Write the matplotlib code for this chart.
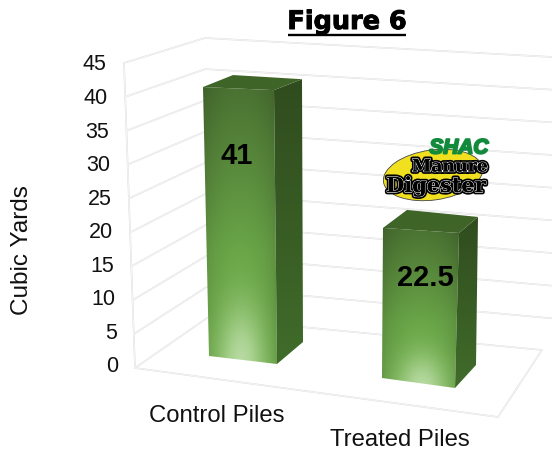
import matplotlib
matplotlib.use("Agg")
import matplotlib.pyplot as plt
import matplotlib.patheffects as pe
from matplotlib.patches import Polygon, Ellipse
import numpy as np

plt.rcParams['font.family'] = ['Liberation Sans', 'DejaVu Sans']

# Data
categories = ["Control Piles", "Treated Piles"]
values = [41, 22.5]
value_labels = ["41", "22.5"]
y_ticks = [0, 5, 10, 15, 20, 25, 30, 35, 40, 45]

# Perspective frame, in pixels
y_max = 45
front_left = ((135, 368), (124, 63))
back_left = ((207, 318), (205, 38))
back_right = ((552, 351), (552, 57))
floor_front_right = (498, 417)
floor_back_right = (542, 350)

# foot of each bar, px per unit on each vertical edge, lean of those edges
bar_geo = [
    {'bl': (209, 356), 'br': (277, 364), 'bbr': (303, 342),
     'scale': (6.56, 6.68, 6.41), 'lean': (-6, -3, -1), 'tbl': (30, -12), 'label': (237, 156)},
    {'bl': (382, 378), 'br': (455, 388), 'bbr': (476, 365),
     'scale': (6.67, 6.89, 6.58), 'lean': (1, 4, 2), 'tbl': (24, -18), 'label': (425, 278)},
]


def wall_point(edge, v):
    # point on a vertical wall edge for value v
    (x0, y0), (x1, y1) = edge
    t = v / y_max
    return x0 + (x1 - x0) * t, y0 + (y1 - y0) * t


def face_image(ax, poly, rgb):
    xs, ys = zip(*poly)
    im = ax.imshow(rgb, extent=(min(xs), max(xs), max(ys), min(ys)),
                   aspect='auto', interpolation='bilinear', zorder=3)
    clip = Polygon(poly, closed=True, transform=ax.transData, fc='none', ec='none')
    ax.add_patch(clip)
    im.set_clip_path(clip)


def front_shade(n=120):
    u, v = np.meshgrid(np.linspace(0, 1, n), np.linspace(0, 1, n))  # v = 0 at top
    top = np.array([74, 114, 50.0])
    mid = np.array([106, 166, 72.0])
    low = np.array([116, 180, 78.0])
    rgb = np.where(v[..., None] < 0.6,
                   top + (mid - top) * (v[..., None] / 0.6),
                   mid + (low - mid) * ((v[..., None] - 0.6) / 0.4))
    # darker at the side edges
    edge = 0.84 + 0.16 * np.sin(np.pi * u) ** 0.6
    rgb = rgb * edge[..., None]
    # pale glow at foot of bar
    glow = 0.9 * np.exp(-(((u - 0.52) / 0.3) ** 2 + ((v - 1.0) / 0.2) ** 2))[..., None]
    rgb = rgb + (np.array([190, 222, 170.0]) - rgb) * glow
    return np.clip(rgb / 255, 0, 1)


def side_shade(n=60):
    v = np.linspace(0, 1, n)[:, None, None]
    top = np.array([48, 76, 30.0])
    low = np.array([64, 108, 42.0])
    return (top + (low - top) * v) / 255


fig = plt.figure(figsize=(5.52, 4.5), dpi=100)
ax = fig.add_axes([0, 0, 1, 1])

grid_kw = dict(color='#dedede', lw=1.2, solid_capstyle='round', zorder=1)
inner_kw = dict(color='white', lw=0.45, zorder=1.1)

# Gridlines on the side and back walls
for v in y_ticks:
    a = wall_point(front_left, v)
    b = wall_point(back_left, v)
    c = wall_point(back_right, v)
    if v == 0:
        c = floor_back_right
    for kw in (grid_kw, inner_kw):
        ax.plot([a[0], b[0], c[0]], [a[1], b[1], c[1]], **kw)

# Left edge and floor
for kw in (grid_kw, inner_kw):
    ax.plot([front_left[0][0], front_left[1][0]], [front_left[0][1], front_left[1][1]], **kw)
    ax.plot([front_left[0][0], floor_front_right[0], floor_back_right[0]],
            [front_left[0][1], floor_front_right[1], floor_back_right[1]], **kw)

# Bars
for val, lab, g in zip(values, value_labels, bar_geo):
    bl, br, bbr = g['bl'], g['br'], g['bbr']
    tl = (bl[0] + g['lean'][0], bl[1] - val * g['scale'][0])
    tr = (br[0] + g['lean'][1], br[1] - val * g['scale'][1])
    tbr = (bbr[0] + g['lean'][2], bbr[1] - val * g['scale'][2])
    tbl = (tl[0] + g['tbl'][0], tl[1] + g['tbl'][1])
    face_image(ax, [bl, br, tr, tl], front_shade())
    face_image(ax, [br, bbr, tbr, tr], side_shade())
    ax.add_patch(Polygon([tl, tr, tbr, tbl], closed=True, fc='#3f6428', ec='none', zorder=3.2))
    ax.text(g['label'][0], g['label'][1], lab, fontsize=21, fontweight='bold', color='black',
            ha='center', va='center', zorder=5)

# Logo
ax.add_patch(Ellipse((433, 175), 100, 50, angle=-8, fc='#f0e020', ec='#444444', lw=0.6, zorder=2))
ax.text(459, 148, "SHAC", fontsize=15, fontweight='bold', style='italic', color='#118a3c',
        ha='center', va='center', zorder=6,
        path_effects=[pe.withStroke(linewidth=1.4, foreground='#118a3c')])
logo_fx = [pe.withStroke(linewidth=3.4, foreground='black'),
           pe.withStroke(linewidth=0.9, foreground='white'),
           pe.Normal()]
ax.text(450, 167, "Manure", fontsize=12.5, fontweight='bold', family='DejaVu Serif',
        color='black', ha='center', va='center', zorder=6, path_effects=logo_fx)
ax.text(436, 186, "Digester", fontsize=15, fontweight='bold', family='DejaVu Serif',
        color='black', ha='center', va='center', zorder=6, path_effects=logo_fx)

# Tick labels
for v in y_ticks:
    t = v / y_max
    ax.text(118 - 12 * t, 367 - 302 * t, str(v), fontsize=15.5, color='#111111', ha='right', va='center')

# Category labels
ax.text(217, 416, categories[0], fontsize=17.2, color='#111111', ha='center', va='center')
ax.text(400, 440, categories[1], fontsize=17.2, color='#111111', ha='center', va='center')

ax.text(22, 250, "Cubic Yards", fontsize=17.5, color='#111111', rotation=90, ha='center', va='center')

# Title, underlined by hand
ax.text(347, 22, "Figure 6", fontsize=18.4, fontweight='bold', family='DejaVu Sans',
        ha='center', va='center',
        path_effects=[pe.withStroke(linewidth=0.7, foreground='black')])
ax.plot([288, 406], [35, 35], color='black', lw=1.7, zorder=5, solid_capstyle='butt')

ax.set_xlim(0, 552)
ax.set_ylim(450, 0)
ax.axis('off')

fig.savefig("out.png", dpi=100)
